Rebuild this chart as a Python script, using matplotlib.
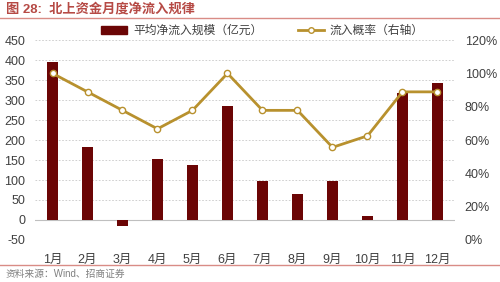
import matplotlib
import matplotlib.pyplot as plt
from matplotlib.lines import Line2D
from matplotlib.patches import Patch

matplotlib.use('Agg')

months = ['1月', '2月', '3月', '4月', '5月', '6月', '7月', '8月', '9月', '10月', '11月', '12月']
net_inflow = [396, 183, -15, 152, 137, 285, 97, 65, 97, 10, 318, 343]
inflow_prob = [1.0, 0.889, 0.778, 0.667, 0.778, 1.0, 0.778, 0.778, 0.556, 0.625, 0.889, 0.889]

FONTS = ['Liberation Sans', 'Noto Sans CJK SC', 'DejaVu Sans']
BAR_COLOR = '#6B0505'
LINE_COLOR = '#B8912E'
TEXT_COLOR = '#404040'


def main():
    plt.rcParams['font.family'] = FONTS
    plt.rcParams['axes.unicode_minus'] = False
    fig = plt.figure(figsize=(5, 2.82), dpi=100)
    ax = fig.add_axes([0.07, 0.149, 0.84, 0.709])
    ax2 = ax.twinx()

    x = list(range(len(months)))
    ax.bar(x, net_inflow, width=0.32, color=BAR_COLOR, zorder=2)
    ax.set_ylim(-50, 450)
    ax.set_yticks(range(-50, 451, 50))
    ax.set_xlim(-0.5, len(months) - 0.5)
    ax.set_xticks(x)
    ax.set_xticklabels(months)
    for v in range(-50, 451, 50):
        if v == 0:
            ax.axhline(0, color='#BFBFBF', lw=0.8, zorder=1)
        else:
            ax.axhline(v, color='#C8C8C8', lw=0.6, ls=(0, (2, 2)), zorder=1)

    ax2.plot(x, inflow_prob, color=LINE_COLOR, lw=2, marker='o', ms=4.5,
             mfc='white', mec=LINE_COLOR, mew=1, zorder=3)
    ax2.set_ylim(0, 1.2)
    ax2.set_yticks([i / 5 for i in range(7)])
    ax2.set_yticklabels([f'{i * 20}%' for i in range(7)])

    for a in (ax, ax2):
        for s in a.spines.values():
            s.set_visible(False)
        a.tick_params(length=0, labelsize=9, colors=TEXT_COLOR)
    ax.tick_params(axis='y', pad=7)
    ax.tick_params(axis='x', pad=10, labelsize=9)
    ax2.tick_params(axis='y', pad=7)

    handles = [Patch(color=BAR_COLOR),
               Line2D([0], [0], color=LINE_COLOR, lw=2, marker='o', ms=4,
                      mfc='white', mec=LINE_COLOR)]
    fig.legend(handles, ['平均净流入规模（亿元）', '流入概率（右轴）'],
               loc='center', bbox_to_anchor=(0.525, 0.89), ncol=2, frameon=False,
               fontsize=8.5, handlelength=2.2, handleheight=0.6, handletextpad=0.5,
               columnspacing=3, labelcolor=TEXT_COLOR)

    # title, rules, source
    fig.text(0.012, 0.965, '图 28:  北上资金月度净流入规律', fontsize=9.5,
             fontweight='bold', color='#B64A45', va='center')
    fig.add_artist(Line2D([0.0, 1.0], [0.935, 0.935], color='#D98C86', lw=1))
    fig.add_artist(Line2D([0.0, 1.0], [0.06, 0.06], color='#D98C86', lw=1))
    fig.text(0.012, 0.028, '资料来源：Wind、招商证券', fontsize=7, color='#808080',
             va='center')

    fig.savefig('out.png', dpi=100)


if __name__ == '__main__':
    main()
